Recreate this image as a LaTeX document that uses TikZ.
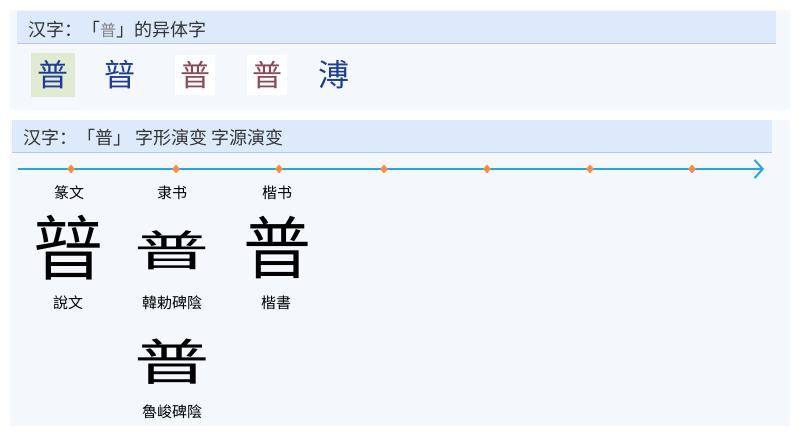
\documentclass[tikz,border=0pt]{standalone}
\usepackage{fontspec}
\usepackage{graphicx}
\setmainfont{Noto Sans CJK SC}
\usetikzlibrary{arrows.meta,shapes.geometric}
\definecolor{pagebg}{HTML}{F4F8FD}
\definecolor{headbg}{HTML}{DCEAFC}
\definecolor{headrule}{HTML}{B6CBE8}
\definecolor{varblue}{HTML}{1B3C9E}
\definecolor{varhl}{HTML}{E1EBD0}
\definecolor{varbrown}{HTML}{8A4A55}
\definecolor{lineblue}{HTML}{22A8E6}
\definecolor{tickorange}{HTML}{FF8C3A}
\begin{document}
\begin{tikzpicture}
[x=1pt,y=-1pt,
  headtext/.style={anchor=west,inner sep=0pt,text=black!80,
    font=\fontsize{18}{18}\selectfont},%
  vardecorate/.style={inner sep=3pt,minimum size=44pt,text=varblue,
    font=\fontsize{31}{31}\selectfont},%
  imgdecorate/.style={inner sep=0pt,minimum size=40pt,fill=white,
    text=varbrown,font=\fontsize{30}{30}\selectfont\fontseries{l}\selectfont},%
  tickdecorate/.style={shape=diamond,fill=tickorange,inner sep=0pt,
    minimum width=8pt,minimum height=9pt},%
  labeldecorate/.style={inner sep=0pt,font=\fontsize{15}{15}\selectfont},%
  glyphdecorate/.style={inner sep=0pt}]
\useasboundingbox[fill=white] (0,0) rectangle (800,436);
%% panels
\fill[pagebg] (10,10) rectangle (790,110);
\fill[headbg] (17,11) rectangle (776,43);
\draw[headrule] (17,43) -- (776,43);
\fill[pagebg] (10,120) rectangle (790,426);
\fill[headbg] (12,120) rectangle (772,152);
\draw[headrule] (12,152) -- (772,152);
%% headings
\node (head1) at (28,30) [headtext] {汉字：「{\fontsize{16}{16}\selectfont\color{gray}普}」的异体字};
\node (head2) at (23,138) [headtext] {汉字：「普」 字形演变 字源演变};
%% variants
\node (v1) at (53,75) [vardecorate,fill=varhl] {普};
\node (v2) at (120,75) [vardecorate] {暜};
\node (v3) at (195,75) [imgdecorate] {普};
\node (v4) at (267,75) [imgdecorate] {普};
\node (v5) at (334,75) [vardecorate] {溥};
%% timeline
\coordinate (tstart) at (18,169);
\coordinate (tend) at (764,169);
\draw[lineblue,line width=2pt,-{Straight Barb[length=8pt,width=18pt,line width=2pt]}]
  (tstart) -- (tend);
\foreach \tickname/\x in {t1/71, t2/176, t3/279, t4/384, t5/487, t6/590,
  t7/692} {
  \node (\tickname) at (\x,169) [tickdecorate] {};
}
\foreach \labelname/\x/\text in {s1/69/篆文, s2/172/隶书, s3/277/楷书} {
  \node (\labelname) at (\x,193) [labeldecorate] {\text};
}
%% glyphs and sources
\node (g1) at (68,248) [glyphdecorate] {\fontsize{70}{70}\selectfont 暜};
\node (g2) at (172,250) [glyphdecorate] {\fontsize{50}{50}\selectfont\scalebox{1.5}[0.85]{普}};
\node (g3) at (277,248) [glyphdecorate] {\fontsize{68}{68}\selectfont 普};
\node (g4) at (172,362) [glyphdecorate] {\fontsize{52}{52}\selectfont\scalebox{1.45}[0.95]{普}};
\foreach \capname/\x/\y/\text in {c1/68/303/說文, c2/172/303/韓勅碑陰,
  c3/276/303/楷書, c4/172/412/魯峻碑陰} {
  \node (\capname) at (\x,\y) [labeldecorate] {\text};
}
\end{tikzpicture}
\end{document}
